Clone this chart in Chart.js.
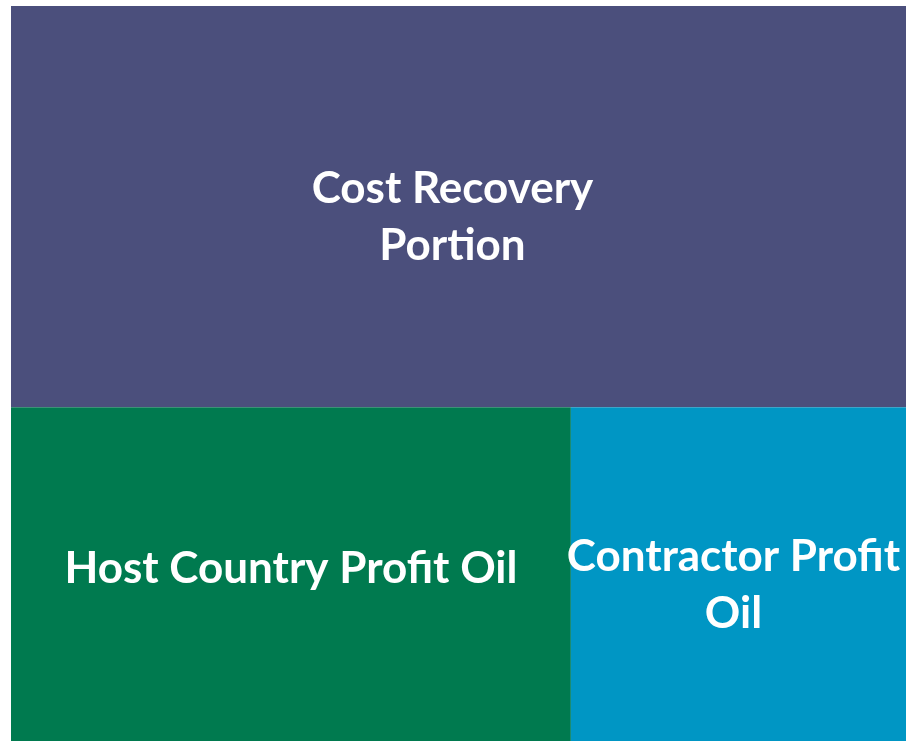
<!DOCTYPE html>
<html>
<head>
<meta charset="utf-8">
<script src="https://cdn.jsdelivr.net/npm/chart.js@4/dist/chart.umd.min.js"></script>
<style>
  html, body { margin: 0; padding: 0; background: #fff; }
  #wrap { width: 906px; height: 742px; }
</style>
</head>
<body>
<div id="wrap"><canvas id="grafico"></canvas></div>
<script>
// dados do treemap (partes do óleo produzido, %)
const categorias = [
    ['Cost Recovery', 'Portion'],
    ['Host Country Profit Oil'],
    ['Contractor Profit', 'Oil']
];
const valores = [54.6, 28.4, 17.0];
const cores = ['#4b4f7c', '#007a4f', '#0096c4'];

// layout simples: primeiro bloco ocupa a largura toda em cima,
// os demais dividem a faixa de baixo na horizontal
function montarLayout() {
    const total = valores.reduce((a, b) => a + b, 0);
    const hTopo = valores[0] / total * 100;
    const celulas = [{ x0: 0, x1: 100, y0: 0, y1: hTopo }];
    const resto = total - valores[0];
    let x = 0;
    for (let i = 1; i < valores.length; i++) {
        const w = valores[i] / resto * 100;
        celulas.push({ x0: x, x1: x + w, y0: hTopo, y1: 100 });
        x += w;
    }
    return celulas;
}

const pluginTreemap = {
    id: 'treemap',
    afterDraw(chart) {
        const { ctx, scales } = chart;
        const sx = scales.x, sy = scales.y;
        const celulas = montarLayout();
        celulas.forEach((c, i) => {
            const left = sx.getPixelForValue(c.x0);
            const right = sx.getPixelForValue(c.x1);
            const top = sy.getPixelForValue(c.y0);
            const bottom = sy.getPixelForValue(c.y1);
            ctx.save();
            ctx.fillStyle = cores[i];
            ctx.fillRect(left, top, right - left, bottom - top);

            const linhas = categorias[i];
            const alturaLinha = 57;
            ctx.fillStyle = '#ffffff';
            ctx.font = 'bold 44px Lato, "Open Sans", sans-serif';
            ctx.textAlign = 'center';
            ctx.textBaseline = 'middle';
            // rótulo do bloco de cima fica um pouco à esquerda do centro,
            // e o que estoura a célula também
            let cx = (left + right) / 2;
            const larg = Math.max(...linhas.map(t => ctx.measureText(t).width));
            if (i === 0) cx -= 6;
            else if (larg > right - left - 10) cx -= 5;
            const cy = (top + bottom) / 2 + (linhas.length > 1 ? 11 : -5);
            const inicio = cy - (linhas.length - 1) * alturaLinha / 2;
            linhas.forEach((t, j) => {
                ctx.fillText(t, cx, inicio + j * alturaLinha);
            });
            ctx.restore();
        });
    }
};

new Chart(document.getElementById('grafico'), {
    type: 'scatter',
    data: { datasets: [{ data: [] }] },
    options: {
        responsive: true,
        maintainAspectRatio: false,
        animation: false,
        layout: { padding: { left: 11, top: 6, right: 0, bottom: 1 } },
        scales: {
            x: { type: 'linear', min: 0, max: 100, display: false },
            y: { type: 'linear', min: 0, max: 100, reverse: true, display: false }
        },
        plugins: {
            legend: { display: false },
            tooltip: { enabled: false }
        }
    },
    plugins: [pluginTreemap]
});
</script>
</body>
</html>
